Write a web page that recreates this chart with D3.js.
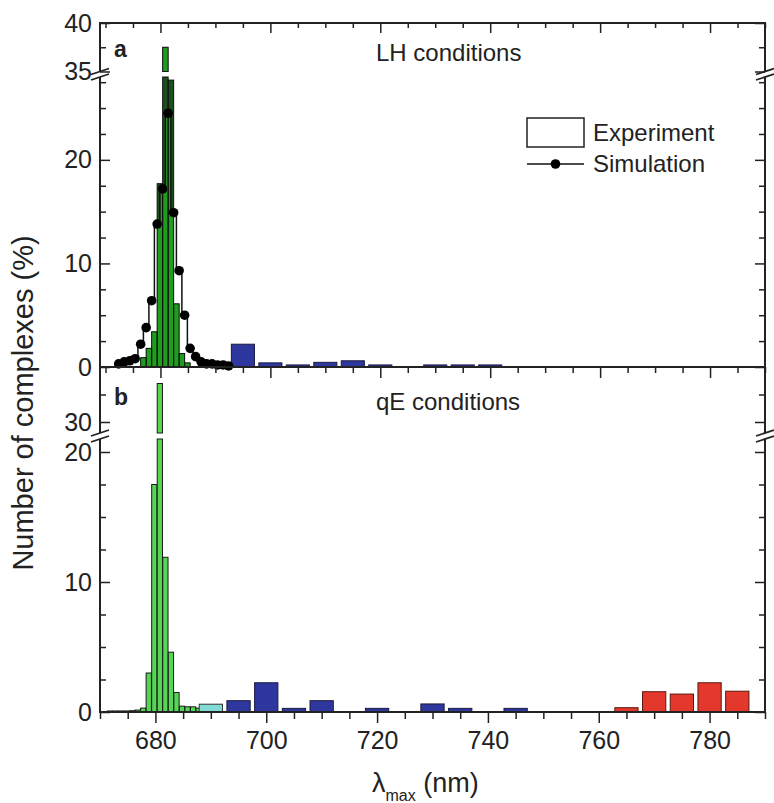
<!DOCTYPE html>
<html>
<head>
<meta charset="utf-8">
<script src="https://cdn.jsdelivr.net/npm/d3@7"></script>
<style>
body { margin: 0; background: #fff; }
text { font-family: "Liberation Sans", Arial, sans-serif; fill: #222; }
</style>
</head>
<body>
<div id="container"></div>
<script>

// ---- data (% of complexes per wavelength bin) ----
// panel a, LH conditions
var lhGreenNm = [676.9, 677.9, 678.9, 679.9, 680.9, 681.9, 682.9, 683.9, 684.9];
var lhGreenPct = [0.9, 1.8, 3.4, 17.7, 37.5, 27.7, 6.1, 1.3, 0.4];
var lhBlueNm = [695, 700, 705, 710, 715, 720, 730, 735, 740];
var lhBluePct = [2.2, 0.4, 0.2, 0.45, 0.6, 0.2, 0.2, 0.2, 0.2];
var simNm = [672.4, 673.4, 674.4, 675.4, 676.4, 677.4, 678.4, 679.4, 680.4, 681.4, 682.4,
             683.4, 684.4, 685.4, 686.4, 687.4, 688.4, 689.4, 690.4, 691.4, 692.4];
var simPct = [0.3, 0.5, 0.6, 0.8, 2.2, 3.8, 6.4, 13.8, 17.2, 24.5, 14.9,
              9.3, 5.0, 1.8, 1.0, 0.5, 0.3, 0.3, 0.2, 0.2, 0.1];

// panel b, qE conditions
var qeGreenNm = [671.8, 672.8, 673.8, 674.8, 675.8, 676.8, 677.8, 678.8, 679.8, 680.8, 681.8,
                 682.8, 683.8, 684.8, 685.8, 686.8, 687.8];
var qeGreenPct = [0.08, 0.08, 0.08, 0.08, 0.1, 0.15, 0.3, 3.0, 17.5, 33.5, 11.9,
                  4.6, 1.5, 0.45, 0.4, 0.4, 0.3];
var qeCyanNm = [690];
var qeCyanPct = [0.6];
var qeBlueNm = [695, 700, 705, 710, 720, 730, 735, 745];
var qeBluePct = [0.87, 2.25, 0.28, 0.87, 0.28, 0.62, 0.28, 0.28];
var qeRedNm = [765, 770, 775, 780, 785];
var qeRedPct = [0.33, 1.56, 1.38, 2.25, 1.6];

// ticks
var xMajor = [680, 700, 720, 740, 760, 780];
var xMinor = [670, 675, 685, 690, 695, 705, 710, 715, 725, 730, 735, 745, 750, 755, 765, 770, 775, 785, 790];
var lhLoMajor = [0, 10, 20];
var lhLoMinor = [2.5, 5, 7.5, 12.5, 15, 17.5, 22.5, 25, 27.5];
var lhHiMajor = [35, 40];
var lhHiMinor = [37.5];
var qeLoMajor = [0, 10, 20];
var qeLoMinor = [2.5, 5, 7.5, 12.5, 15, 17.5];
var qeHiMajor = [30];
var qeHiMinor = [32.5];

var XL = 100, XR = 765;

var svg = d3.select("#container").append("svg")
  .attr("width", 774).attr("height", 803);

function makePanel(cfg) {
  return {
    cfg: cfg,
    x: d3.scaleLinear().domain(cfg.xDomain).range([XL, XR]),
    yLo: d3.scaleLinear().domain(cfg.lo).range([cfg.bottom, cfg.loTop]),
    yHi: d3.scaleLinear().domain(cfg.hi).range([cfg.hiBottom, cfg.top])
  };
}

var pa = makePanel({xDomain: [669, 790], top: 23, bottom: 367, lo: [0, 28], loTop: 77, hi: [35, 40], hiBottom: 71.5});
var pb = makePanel({xDomain: [670, 790], top: 367, bottom: 712, lo: [0, 21], loTop: 439, hi: [29, 35], hiBottom: 433});

function zip(nm, pct) {
  return nm.map(function(d, i) { return {nm: d, v: pct[i]}; });
}

// bars, split over the axis break when needed
function drawBars(p, data, w, fill, stroke, clip) {
  var g = svg.append("g");
  if (clip) g.attr("clip-path", "url(#" + clip + ")");
  var loMax = p.cfg.lo[1];
  g.selectAll(null).data(data).enter().append("rect")
    .attr("x", function(d) { return p.x(d.nm - w / 2); })
    .attr("width", function(d) { return p.x(d.nm + w / 2) - p.x(d.nm - w / 2); })
    .attr("y", function(d) { return p.yLo(Math.min(d.v, loMax)); })
    .attr("height", function(d) { return p.yLo(0) - p.yLo(Math.min(d.v, loMax)); })
    .attr("fill", fill)
    .attr("stroke", stroke)
    .attr("stroke-width", 1);
  g.selectAll(null).data(data.filter(function(d) { return d.v > p.cfg.hi[0]; })).enter().append("rect")
    .attr("x", function(d) { return p.x(d.nm - w / 2); })
    .attr("width", function(d) { return p.x(d.nm + w / 2) - p.x(d.nm - w / 2); })
    .attr("y", function(d) { return p.yHi(d.v); })
    .attr("height", function(d) { return p.yHi(p.cfg.hi[0]) - p.yHi(d.v); })
    .attr("fill", fill)
    .attr("stroke", stroke)
    .attr("stroke-width", 1);
}

// ---- panel a ----
var simData = zip(simNm, simPct);
var simArea = d3.area().curve(d3.curveStep)
  .x(function(d) { return pa.x(d.nm); })
  .y0(pa.yLo(0))
  .y1(function(d) { return pa.yLo(d.v); });
var clip = svg.append("clipPath").attr("id", "simclip");
clip.append("path").attr("d", simArea(simData));
// upper segment of the broken axis stays light
clip.append("rect").attr("x", XL).attr("width", XR - XL)
  .attr("y", pa.cfg.top).attr("height", pa.cfg.hiBottom - pa.cfg.top);

var lhGreen = zip(lhGreenNm, lhGreenPct);
// part of the bar above the simulation shows darker
drawBars(pa, lhGreen, 1, "#1d4f1d", "none");
drawBars(pa, lhGreen, 1, "#1f9d1f", "none", "simclip");
drawBars(pa, lhGreen, 1, "none", "#111");
drawBars(pa, zip(lhBlueNm, lhBluePct), 4.2, "#2d379e", "#1a1a40");

var simLine = d3.line().curve(d3.curveStep)
  .x(function(d) { return pa.x(d.nm); })
  .y(function(d) { return pa.yLo(d.v); });
svg.append("path").attr("d", simLine(simData))
  .attr("fill", "none").attr("stroke", "#111").attr("stroke-width", 1.5);
svg.selectAll("circle.sim").data(simData).enter().append("circle")
  .attr("cx", function(d) { return pa.x(d.nm); })
  .attr("cy", function(d) { return pa.yLo(d.v); })
  .attr("r", 4.8)
  .attr("fill", "#000");

// ---- panel b ----
drawBars(pb, zip(qeGreenNm, qeGreenPct), 0.95, "#55d655", "#1a1a1a");
drawBars(pb, zip(qeCyanNm, qeCyanPct), 4.2, "#80dcd4", "#333");
drawBars(pb, zip(qeBlueNm, qeBluePct), 4.2, "#2d379e", "#1a1a40");
drawBars(pb, zip(qeRedNm, qeRedPct), 4.2, "#e4382c", "#5a1a10");

// ---- axes ----
function styleAxis(g, fs) {
  g.select(".domain").remove();
  g.selectAll(".tick line").attr("stroke", "#222").attr("stroke-width", 1.5);
  g.selectAll(".tick text").attr("font-size", fs).attr("fill", "#222")
    .style("font-family", "'Liberation Sans', Arial, sans-serif");
}

function yAxes(p, scale, majors, minors) {
  svg.append("g").attr("transform", "translate(" + XL + ",0)")
    .call(d3.axisLeft(scale).tickValues(majors).tickSize(-10).tickPadding(8).tickFormat(d3.format("d")))
    .call(styleAxis, 25);
  svg.append("g").attr("transform", "translate(" + XL + ",0)")
    .call(d3.axisLeft(scale).tickValues(minors).tickSize(-6).tickFormat(""))
    .call(styleAxis, 25);
  svg.append("g").attr("transform", "translate(" + XR + ",0)")
    .call(d3.axisRight(scale).tickValues(majors).tickSize(-10).tickFormat(""))
    .call(styleAxis, 25);
  svg.append("g").attr("transform", "translate(" + XR + ",0)")
    .call(d3.axisRight(scale).tickValues(minors).tickSize(-6).tickFormat(""))
    .call(styleAxis, 25);
}

yAxes(pa, pa.yLo, lhLoMajor, lhLoMinor);
yAxes(pa, pa.yHi, lhHiMajor, lhHiMinor);
yAxes(pb, pb.yLo, qeLoMajor, qeLoMinor);
yAxes(pb, pb.yHi, qeHiMajor, qeHiMinor);

// x ticks: panel a (top edge inward, bottom edge outward, no labels)
svg.append("g").attr("transform", "translate(0," + pa.cfg.top + ")")
  .call(d3.axisTop(pa.x).tickValues(xMajor).tickSize(-10).tickFormat("")).call(styleAxis, 25);
svg.append("g").attr("transform", "translate(0," + pa.cfg.top + ")")
  .call(d3.axisTop(pa.x).tickValues(xMinor).tickSize(-5).tickFormat("")).call(styleAxis, 25);
svg.append("g").attr("transform", "translate(0," + pa.cfg.bottom + ")")
  .call(d3.axisBottom(pa.x).tickValues(xMajor).tickSize(11).tickFormat("")).call(styleAxis, 25);
svg.append("g").attr("transform", "translate(0," + pa.cfg.bottom + ")")
  .call(d3.axisBottom(pa.x).tickValues(xMinor).tickSize(6).tickFormat("")).call(styleAxis, 25);

// panel b bottom axis with labels
svg.append("g").attr("transform", "translate(0," + pb.cfg.bottom + ")")
  .call(d3.axisBottom(pb.x).tickValues(xMajor).tickSize(11).tickPadding(8).tickFormat(d3.format("d")))
  .call(styleAxis, 25);
svg.append("g").attr("transform", "translate(0," + pb.cfg.bottom + ")")
  .call(d3.axisBottom(pb.x).tickValues(xMinor).tickSize(7).tickFormat(""))
  .call(styleAxis, 25);

// frame, with gaps at the breaks
var frame = svg.append("g").attr("stroke", "#222").attr("stroke-width", 2).attr("fill", "none");
[pa, pb].forEach(function(p) {
  [XL, XR].forEach(function(xx) {
    frame.append("line").attr("x1", xx).attr("x2", xx).attr("y1", p.cfg.bottom).attr("y2", p.cfg.loTop);
    frame.append("line").attr("x1", xx).attr("x2", xx).attr("y1", p.cfg.hiBottom).attr("y2", p.cfg.top);
    [p.cfg.loTop, p.cfg.hiBottom].forEach(function(yy) {
      frame.append("line").attr("x1", xx - 9).attr("x2", xx + 9)
        .attr("y1", yy + 3).attr("y2", yy - 3).attr("stroke-width", 1.8);
    });
  });
});
[pa.cfg.top, pa.cfg.bottom, pb.cfg.bottom].forEach(function(yy) {
  frame.append("line").attr("x1", XL - 1).attr("x2", XR + 1).attr("y1", yy).attr("y2", yy);
});

// ---- texts ----
svg.append("text").attr("x", 114).attr("y", 57).attr("font-size", 23).attr("font-weight", "bold").text("a");
svg.append("text").attr("x", 114).attr("y", 405).attr("font-size", 23).attr("font-weight", "bold").text("b");
svg.append("text").attr("x", 376).attr("y", 61).attr("font-size", 24).text("LH conditions");
svg.append("text").attr("x", 376).attr("y", 410).attr("font-size", 24).text("qE conditions");

// legend
var lg = svg.append("g");
lg.append("rect").attr("x", 527).attr("y", 118).attr("width", 57).attr("height", 29)
  .attr("fill", "#fff").attr("stroke", "#222").attr("stroke-width", 1.5);
lg.append("text").attr("x", 593).attr("y", 141).attr("font-size", 24).text("Experiment");
lg.append("line").attr("x1", 527).attr("x2", 584).attr("y1", 164).attr("y2", 164)
  .attr("stroke", "#111").attr("stroke-width", 1.5);
lg.append("circle").attr("cx", 555.5).attr("cy", 164).attr("r", 4.8).attr("fill", "#000");
lg.append("text").attr("x", 593).attr("y", 172).attr("font-size", 24).text("Simulation");

// axis titles
svg.append("text")
  .attr("transform", "translate(33,403) rotate(-90)")
  .attr("text-anchor", "middle")
  .attr("font-size", 29)
  .text("Number of complexes (%)");

var xt = svg.append("text").attr("x", 372).attr("y", 792).attr("font-size", 27);
xt.append("tspan").text("λ");
xt.append("tspan").attr("font-size", 16).attr("dy", 9).text("max");
xt.append("tspan").attr("dy", -9).text(" (nm)");

</script>
</body>
</html>
